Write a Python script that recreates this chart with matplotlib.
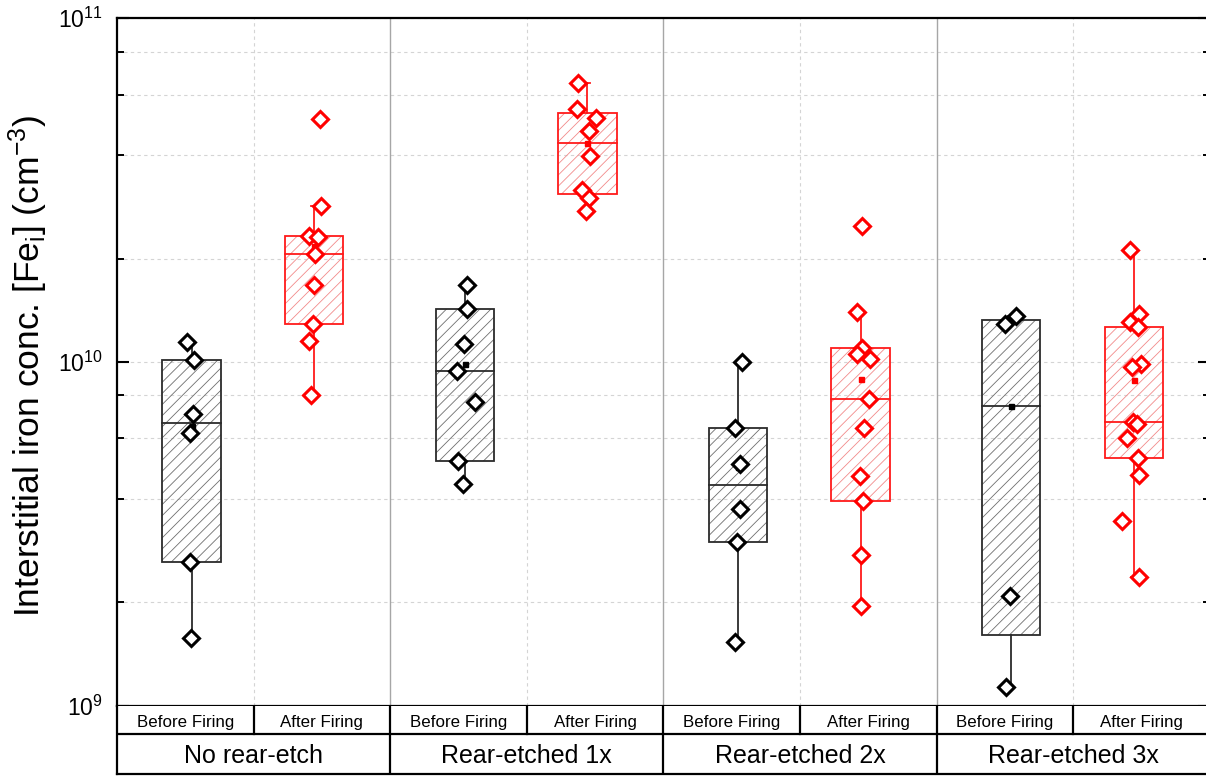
import numpy as np
import matplotlib
matplotlib.use("Agg")
import matplotlib.pyplot as plt
from matplotlib.patches import Rectangle
from matplotlib.ticker import LogLocator, NullFormatter

plt.rcParams["font.family"] = ["Liberation Sans", "DejaVu Sans"]
plt.rcParams["mathtext.fontset"] = "custom"
plt.rcParams["mathtext.rm"] = "Liberation Sans"
plt.rcParams["mathtext.it"] = "Liberation Sans:italic"
plt.rcParams["mathtext.bf"] = "Liberation Sans:bold"
plt.rcParams["hatch.linewidth"] = 0.6

# ---- data: interstitial iron concentration [Fe_i] in cm^-3 ----
groups = ["No rear-etch", "Rear-etched 1x", "Rear-etched 2x", "Rear-etched 3x"]
stages = ["Before Firing", "After Firing"]

fe_before_0x = [1.143e10, 1.013e10, 7.06e9, 6.23e9, 2.62e9, 1.58e9]
fe_after_0x = [5.11e10, 2.85e10, 2.33e10, 2.31e10, 2.06e10, 1.674e10,
               1.287e10, 1.153e10, 8.0e9]
fe_before_1x = [1.671e10, 1.429e10, 1.130e10, 9.43e9, 7.64e9, 5.15e9, 4.42e9]
fe_after_1x = [6.485e10, 5.464e10, 5.12e10, 4.716e10, 3.98e10, 3.162e10,
               3.004e10, 2.748e10]
fe_before_2x = [9.98e9, 6.42e9, 5.04e9, 3.74e9, 2.99e9, 1.535e9]
fe_after_2x = [2.49e10, 1.395e10, 1.103e10, 1.057e10, 1.020e10, 7.81e9,
               6.44e9, 4.68e9, 3.94e9, 2.74e9, 1.953e9]
fe_before_3x = [1.363e10, 1.287e10, 2.084e9, 1.138e9]
fe_after_3x = [2.117e10, 1.376e10, 1.305e10, 1.262e10, 9.85e9, 9.67e9,
               6.69e9, 6.60e9, 6.00e9, 5.28e9, 4.69e9, 3.45e9, 2.376e9]

# horizontal scatter of the individual points (fraction of a group width)
jit_before_0x = [-0.015, 0.008, 0.006, -0.006, -0.006, -0.003]
jit_after_0x = [0.022, 0.026, -0.018, 0.015, 0.004, 0.0, -0.004, -0.018, -0.011]
jit_before_1x = [0.007, 0.007, -0.002, -0.027, 0.037, -0.024, -0.005]
jit_after_1x = [-0.033, -0.037, 0.031, 0.004, 0.011, -0.020, 0.007, -0.007]
jit_before_2x = [0.015, -0.011, 0.009, 0.009, -0.005, -0.011]
jit_after_2x = [0.004, -0.015, 0.004, -0.013, 0.033, 0.031, 0.013, -0.002,
                0.007, 0.002, 0.0]
jit_before_3x = [0.018, -0.022, -0.005, -0.018]
jit_after_3x = [-0.015, 0.020, -0.015, 0.015, 0.026, -0.007, -0.004, 0.011,
                -0.026, 0.015, 0.018, -0.042, 0.018]

series_before = [fe_before_0x, fe_before_1x, fe_before_2x, fe_before_3x]
series_after = [fe_after_0x, fe_after_1x, fe_after_2x, fe_after_3x]
jitter_before = [jit_before_0x, jit_before_1x, jit_before_2x, jit_before_3x]
jitter_after = [jit_after_0x, jit_after_1x, jit_after_2x, jit_after_3x]

# ---- styles ----
styles = {
    "before": dict(mark="#000000", edge="#2b2b2b", hatch="#6e6e6e", off=0.273),
    "after": dict(mark="#ff0000", edge="#ff1a1a", hatch="#f28a8a", off=0.722),
}
BOX_W = 0.2134
CAP_W = 0.022
GRID_C = "#d4d4d4"

fig = plt.figure(figsize=(12.06, 7.76), dpi=100)
ax = fig.add_axes([0.09701, 0.09021, 0.90614, 0.88621])
tax = fig.add_axes([0.09701, 0.00219, 0.90614, 0.08802])

n_groups = len(groups)
ax.set_xlim(0, n_groups)
ax.set_yscale("log")
ax.set_ylim(1e9, 1e11)

# grid: dashed at minor/major decades, dashed between stages, solid between groups
ax.yaxis.set_minor_locator(LogLocator(base=10, subs=[2, 4, 6, 8]))
ax.yaxis.set_minor_formatter(NullFormatter())
ax.grid(which="both", axis="y", color=GRID_C, ls=(0, (3, 3)), lw=0.8, zorder=0)
ax.set_axisbelow(True)
for g in range(n_groups):
    ax.axvline(g + 0.5, color=GRID_C, ls=(0, (3, 3)), lw=0.8, zorder=0)
    if g > 0:
        ax.axvline(g, color="#a6a6a6", lw=1.0, zorder=1)


def draw_box(x, vals, jit, st):
    v = np.asarray(vals, dtype=float)
    q1, med, q3 = np.percentile(v, [25, 50, 75], method="averaged_inverted_cdf")
    iqr = q3 - q1
    inside = v[(v >= q1 - 1.5 * iqr) & (v <= q3 + 1.5 * iqr)]
    w_lo, w_hi = inside.min(), inside.max()
    mean = v.mean()
    # hatched body
    ax.add_patch(Rectangle((x - BOX_W / 2, q1), BOX_W, q3 - q1, fill=False,
                           hatch="///", edgecolor=st["hatch"], lw=0, zorder=2))
    ax.add_patch(Rectangle((x - BOX_W / 2, q1), BOX_W, q3 - q1, fill=False,
                           edgecolor=st["edge"], lw=1.3, zorder=3))
    ax.plot([x - BOX_W / 2, x + BOX_W / 2], [med, med], color=st["edge"],
            lw=1.3, zorder=3)
    # whiskers (1.5 IQR) with caps
    ax.plot([x, x], [q3, w_hi], color=st["edge"], lw=1.3, zorder=3)
    ax.plot([x, x], [w_lo, q1], color=st["edge"], lw=1.3, zorder=3)
    for yc in (w_lo, w_hi):
        ax.plot([x - CAP_W / 2, x + CAP_W / 2], [yc, yc], color=st["edge"],
                lw=1.3, zorder=3)
    ax.plot([x], [mean], "s", ms=3.6, color=st["mark"], zorder=4)
    ax.plot(x + np.asarray(jit), v, "D", ms=8.0, mfc="white", mec=st["mark"],
            mew=2.2, ls="none", zorder=5)


for g in range(n_groups):
    draw_box(g + styles["before"]["off"], series_before[g], jitter_before[g],
             styles["before"])
    draw_box(g + styles["after"]["off"], series_after[g], jitter_after[g],
             styles["after"])

# axes frame and ticks
for sp in ax.spines.values():
    sp.set_linewidth(1.6)
    sp.set_color("black")
ax.set_xticks([])
ax.tick_params(axis="y", which="major", direction="in", length=8.5, width=1.5,
               left=True, right=True, labelsize=16.5, pad=10.5)
ax.tick_params(axis="y", which="minor", direction="in", length=4.8, width=1.4,
               left=True, right=True)

fig.text(28 / 1206, 1 - 366 / 776,
         r"Interstitial iron conc. [Fe$_\mathregular{i}$] (cm$^\mathregular{-3}$)",
         rotation=90, ha="center", va="center", fontsize=25.5)

# category table below the plot
ROW_SPLIT = 0.59
tax.set_xlim(0, n_groups)
tax.set_ylim(0, 1)
tax.set_xticks([])
tax.set_yticks([])
tax.spines["top"].set_visible(False)
for s in ("left", "right", "bottom"):
    tax.spines[s].set_linewidth(1.6)
    tax.spines[s].set_color("black")
tax.axhline(ROW_SPLIT, color="black", lw=1.6)
for g in range(n_groups):
    if g > 0:
        tax.axvline(g, color="black", lw=1.6)
    tax.plot([g + 0.5, g + 0.5], [ROW_SPLIT, 1], color="black", lw=1.6)
    tax.text(g + 0.25, 0.697, stages[0], ha="center", va="baseline", fontsize=12.2)
    tax.text(g + 0.75, 0.697, stages[1], ha="center", va="baseline", fontsize=12.2)
    tax.text(g + 0.5, 0.161, groups[g], ha="center", va="baseline", fontsize=18)

fig.savefig("out.png", dpi=100)
